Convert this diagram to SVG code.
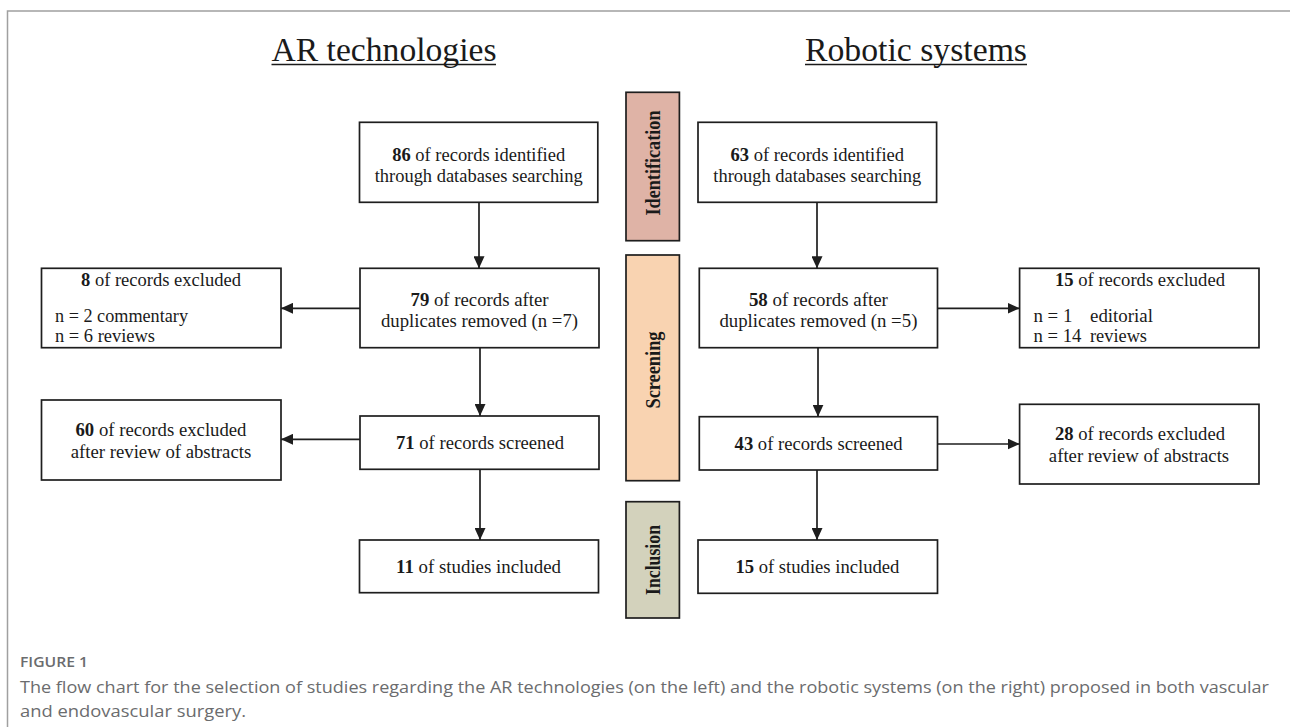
<svg xmlns="http://www.w3.org/2000/svg" width="1290" height="727" viewBox="0 0 1290 727">
<style>
.frame{stroke:#a0a0a0;stroke-width:1.5;fill:none}
.box{fill:#fff;stroke:#1e1e1e;stroke-width:1.7}
.t{font-family:"Liberation Serif","Times New Roman",serif;font-size:18px;fill:#1a1a1a}
.c{text-anchor:middle}
.b{font-weight:bold}
.title{font-family:"Liberation Serif","Times New Roman",serif;font-size:34px;fill:#1a1a1a;text-anchor:middle}
.ul{stroke:#1a1a1a;stroke-width:1.5}
.phase{stroke:#1e1e1e;stroke-width:1.7}
.pt{font-family:"Liberation Serif","Times New Roman",serif;font-size:21px;font-weight:bold;fill:#1a1a1a;text-anchor:middle}
.conn line{stroke:#1e1e1e;stroke-width:1.7;marker-end:url(#ah)}
.cap{font-family:"Open Sans","Noto Sans",sans-serif;fill:#6b6c6e}
</style>
<defs>
<marker id="ah" markerUnits="userSpaceOnUse" markerWidth="12" markerHeight="11" refX="12" refY="5.5" orient="auto">
<path d="M0,0 L12,5.5 L0,11 z" fill="#1e1e1e"/>
</marker>
</defs>
<rect width="1290" height="727" fill="#fff"/>
<path class="frame" d="M1290,11 H7.5 V727"/>

<g id="title-ar">
<text class="title" x="384" y="61" textLength="225" lengthAdjust="spacingAndGlyphs">AR technologies</text>
<line class="ul" x1="271.5" y1="64.5" x2="496" y2="64.5"/>
</g>
<g id="title-robotic">
<text class="title" x="916" y="61" textLength="222" lengthAdjust="spacingAndGlyphs">Robotic systems</text>
<line class="ul" x1="805" y1="64.5" x2="1027" y2="64.5"/>
</g>

<g id="phase-identification">
<rect class="phase" x="626" y="92.3" width="53.4" height="148.4" fill="#dfb3a6"/>
<text class="pt" transform="translate(659.5,163) rotate(-90)" textLength="105" lengthAdjust="spacingAndGlyphs">Identification</text>
</g>
<g id="phase-screening">
<rect class="phase" x="626" y="255" width="53.4" height="225.7" fill="#f9d3b1"/>
<text class="pt" transform="translate(659.5,370) rotate(-90)" textLength="77" lengthAdjust="spacingAndGlyphs">Screening</text>
</g>
<g id="phase-inclusion">
<rect class="phase" x="626" y="501.7" width="53.4" height="116.3" fill="#d3d2bc"/>
<text class="pt" transform="translate(659.5,560) rotate(-90)" textLength="70" lengthAdjust="spacingAndGlyphs">Inclusion</text>
</g>

<g id="box-86">
<rect class="box" x="359.5" y="122.3" width="238.3" height="80"/>
<text class="t c" x="478.7" y="160.5" textLength="173" lengthAdjust="spacingAndGlyphs"><tspan class="b">86</tspan> of records identified</text>
<text class="t c" x="478.7" y="181.5" textLength="208" lengthAdjust="spacingAndGlyphs">through databases  searching</text>
</g>
<g id="box-63">
<rect class="box" x="698" y="122.3" width="238.6" height="80"/>
<text class="t c" x="817.3" y="160.5" textLength="173.6" lengthAdjust="spacingAndGlyphs"><tspan class="b">63</tspan> of records identified</text>
<text class="t c" x="817.3" y="181.5" textLength="208" lengthAdjust="spacingAndGlyphs">through databases  searching</text>
</g>

<g id="box-8">
<rect class="box" x="41.5" y="268.3" width="239.5" height="79.4"/>
<text class="t c" x="161" y="286" textLength="160" lengthAdjust="spacingAndGlyphs"><tspan class="b">8</tspan> of records excluded</text>
<text class="t" x="55" y="321.5" textLength="133" lengthAdjust="spacingAndGlyphs">n = 2 commentary</text>
<text class="t" x="55" y="342" textLength="100" lengthAdjust="spacingAndGlyphs">n = 6 reviews</text>
</g>
<g id="box-79">
<rect class="box" x="360" y="268.3" width="239" height="79.4"/>
<text class="t c" x="479.5" y="306" textLength="138" lengthAdjust="spacingAndGlyphs"><tspan class="b">79</tspan> of records after</text>
<text class="t c" x="479.5" y="327" textLength="197" lengthAdjust="spacingAndGlyphs">duplicates removed (n =7)</text>
</g>
<g id="box-58">
<rect class="box" x="699.3" y="268.3" width="238.2" height="79.4"/>
<text class="t c" x="818.4" y="306" textLength="139" lengthAdjust="spacingAndGlyphs"><tspan class="b">58</tspan> of records after</text>
<text class="t c" x="818.4" y="327" textLength="198" lengthAdjust="spacingAndGlyphs">duplicates removed (n =5)</text>
</g>
<g id="box-15">
<rect class="box" x="1019.6" y="268.3" width="239.4" height="79.4"/>
<text class="t c" x="1140" y="286" textLength="170" lengthAdjust="spacingAndGlyphs"><tspan class="b">15</tspan> of records excluded</text>
<text class="t" x="1033.4" y="321.5" textLength="39" lengthAdjust="spacingAndGlyphs">n = 1</text>
<text class="t" x="1090" y="321.5" textLength="63" lengthAdjust="spacingAndGlyphs">editorial</text>
<text class="t" x="1033.4" y="342" textLength="48" lengthAdjust="spacingAndGlyphs">n = 14</text>
<text class="t" x="1090" y="342" textLength="57" lengthAdjust="spacingAndGlyphs">reviews</text>
</g>

<g id="box-60">
<rect class="box" x="41.5" y="400" width="239.5" height="80"/>
<text class="t c" x="161" y="436" textLength="171" lengthAdjust="spacingAndGlyphs"><tspan class="b">60</tspan> of records excluded</text>
<text class="t c" x="161" y="458" textLength="180.5" lengthAdjust="spacingAndGlyphs">after review of abstracts</text>
</g>
<g id="box-71">
<rect class="box" x="360" y="416" width="239" height="53.3"/>
<text class="t c" x="480" y="449" textLength="168" lengthAdjust="spacingAndGlyphs"><tspan class="b">71</tspan> of records screened</text>
</g>
<g id="box-43">
<rect class="box" x="699.3" y="416.7" width="238.2" height="53.3"/>
<text class="t c" x="818.6" y="449.5" textLength="168" lengthAdjust="spacingAndGlyphs"><tspan class="b">43</tspan> of records screened</text>
</g>
<g id="box-28">
<rect class="box" x="1019.6" y="404.3" width="239.4" height="79.7"/>
<text class="t c" x="1140" y="440" textLength="170" lengthAdjust="spacingAndGlyphs"><tspan class="b">28</tspan> of records excluded</text>
<text class="t c" x="1139" y="461.5" textLength="180.3" lengthAdjust="spacingAndGlyphs">after review of abstracts</text>
</g>

<g id="box-11">
<rect class="box" x="359.5" y="540" width="239" height="52.7"/>
<text class="t c" x="478.5" y="573" textLength="165" lengthAdjust="spacingAndGlyphs"><tspan class="b">11</tspan> of studies included</text>
</g>
<g id="box-15s">
<rect class="box" x="698" y="540" width="239.5" height="53.3"/>
<text class="t c" x="817.4" y="573" textLength="164" lengthAdjust="spacingAndGlyphs"><tspan class="b">15</tspan> of studies included</text>
</g>

<g id="connectors" class="conn">
<line x1="479" y1="202.3" x2="479" y2="268.3"/>
<line x1="817" y1="202.3" x2="817" y2="268.3"/>
<line x1="360" y1="308.3" x2="281" y2="308.3"/>
<line x1="937.5" y1="308.3" x2="1019.6" y2="308.3"/>
<line x1="480" y1="347.7" x2="480" y2="416"/>
<line x1="818" y1="347.7" x2="818" y2="416.7"/>
<line x1="360" y1="439.3" x2="281" y2="439.3"/>
<line x1="937.5" y1="444" x2="1019.6" y2="444"/>
<line x1="480" y1="469.3" x2="480" y2="540"/>
<line x1="817" y1="470" x2="817" y2="540"/>
</g>

<g id="caption">
<text class="cap" x="20" y="666.7" font-size="15" font-weight="600" textLength="68" lengthAdjust="spacingAndGlyphs">FIGURE 1</text>
<text class="cap" x="20" y="693.3" font-size="16.5" textLength="1249" lengthAdjust="spacingAndGlyphs">The flow chart for the selection of studies regarding the AR technologies (on the left) and the robotic systems (on the right) proposed in both vascular</text>
<text class="cap" x="20" y="716.7" font-size="16.5" textLength="226" lengthAdjust="spacingAndGlyphs">and endovascular surgery.</text>
</g>
</svg>
